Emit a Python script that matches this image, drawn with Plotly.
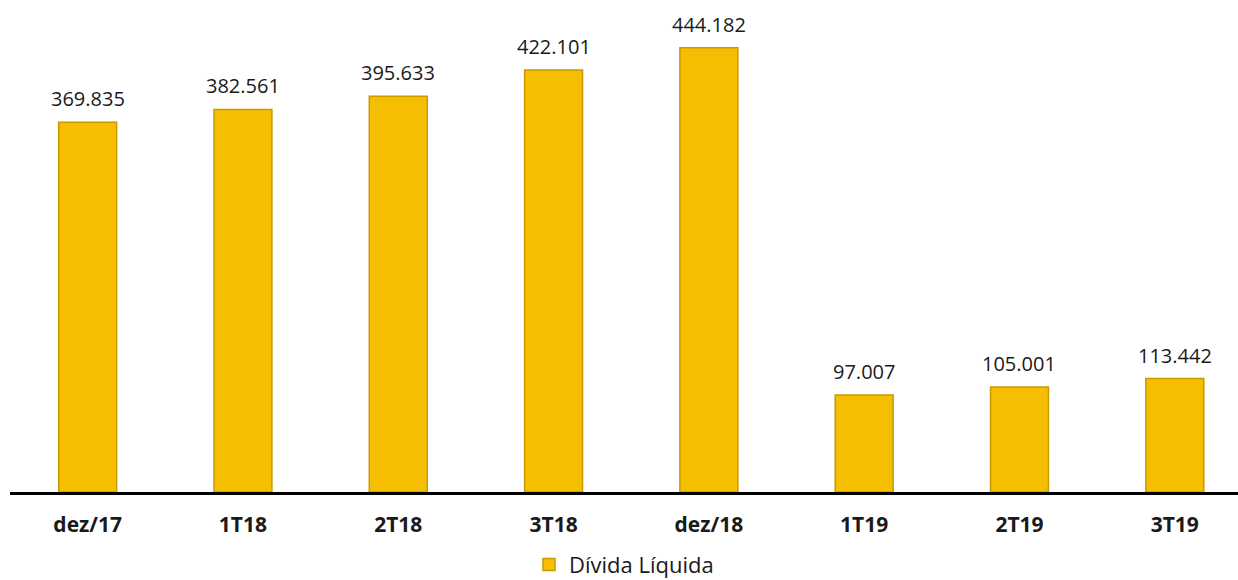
import plotly.graph_objects as go

categories = ["dez/17", "1T18", "2T18", "3T18", "dez/18", "1T19", "2T19", "3T19"]
divida_liquida = [369835, 382561, 395633, 422101, 444182, 97007, 105001, 113442]
series_name = "Dívida Líquida"

fig = go.Figure()
fig.add_trace(go.Bar(
    x=categories,
    y=divida_liquida,
    name=series_name,
    width=0.373,
    marker=dict(color="#F6BE00", line=dict(color="#C99A00", width=1.5)),
    hoverinfo="x+y",
))

for cat, val in zip(categories, divida_liquida):
    fig.add_annotation(
        x=cat, y=val, xref="x", yref="y",
        text=f"{val:,}".replace(",", "."),
        showarrow=False, yanchor="bottom", yshift=8,
        font=dict(family="Open Sans", size=20, color="#1a1a1a"),
    )

fig.update_layout(
    width=1238, height=580,
    margin=dict(l=10, r=0, t=0, b=88, autoexpand=False),
    paper_bgcolor="white", plot_bgcolor="white",
    separators=",.",
    showlegend=True,
    legend=dict(orientation="h", x=0.5, xanchor="center", y=-0.148, yanchor="middle",
                itemwidth=30,
                font=dict(family="Open Sans", size=22, color="#1a1a1a")),
    xaxis=dict(range=[-0.5, 7.407], showgrid=False, showline=True, linecolor="black",
               linewidth=3, ticks="", ticklabelstandoff=12,
               tickfont=dict(family="Open Sans", size=21, color="#1a1a1a", weight="bold")),
    yaxis=dict(range=[0, 492000], showgrid=False, showticklabels=False, zeroline=False,
               showline=False),
    bargap=0.6,
)

fig.write_html("out.html")
